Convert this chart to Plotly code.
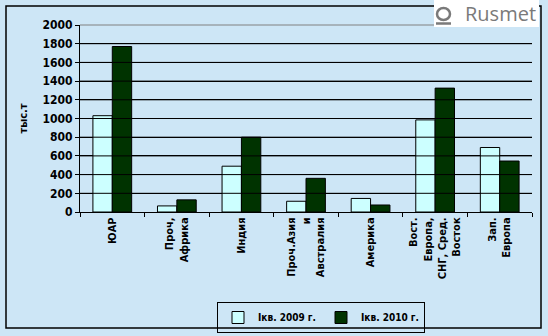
import plotly.graph_objects as go

categories = [
    "ЮАР",
    "Проч,<br>Африка",
    "Индия",
    "Проч.Азия<br>и<br>Австралия",
    "Америка",
    "Вост.<br>Европа,<br>СНГ, Сред.<br>Восток",
    "Зап.<br>Европа",
]
q1_2009 = [1030, 65, 490, 115, 145, 985, 690]
q1_2010 = [1770, 130, 800, 360, 75, 1325, 545]
y_ticks = [0, 200, 400, 600, 800, 1000, 1200, 1400, 1600, 1800, 2000]
y_max = y_ticks[-1]

bg = "#cde6f6"
fam = "DejaVu Sans Condensed, DejaVu Sans, Arial, sans-serif"
bold = dict(family=fam, size=11, color="black", weight="bold")

# plot area in pixels: x 80..532, y 25..212
L, R, T, B = 80, 532, 25, 212
W, H = R - L, B - T


def px(x):
    return (x - L) / W


def py(y):
    return (B - y) / H


fig = go.Figure()
fig.add_trace(go.Bar(
    x=categories, y=q1_2009, name="Iкв. 2009 г.",
    marker=dict(color="#ccffff", line=dict(color="black", width=1)),
))
fig.add_trace(go.Bar(
    x=categories, y=q1_2010, name="Iкв. 2010 г.",
    marker=dict(color="#003300", line=dict(color="black", width=1)),
))

# horizontal grid lines at each y tick (top one lighter)
grid = [
    dict(type="line", xref="paper", yref="paper", x0=0, x1=1, y0=v / y_max, y1=v / y_max,
         line=dict(color="#808080" if v == y_max else "black", width=1), layer="above")
    for v in y_ticks[1:]
]

fig.update_layout(
    template="none",
    width=548, height=336,
    margin=dict(l=L, r=548 - R, t=T, b=336 - B, autoexpand=False),
    paper_bgcolor=bg, plot_bgcolor="rgba(0,0,0,0)",
    barmode="group", bargap=0.4, bargroupgap=0,
    font=bold,
    showlegend=True,
    legend=dict(
        orientation="h", x=px(217), xanchor="left", y=py(302), yanchor="top",
        bordercolor="black", borderwidth=1, bgcolor="rgba(0,0,0,0)",
        font=dict(family=fam, size=10, weight="bold"),
        itemwidth=30, tracegroupgap=0, entrywidth=58, entrywidthmode="pixels",
    ),
    xaxis=dict(
        tickangle=-90, showline=True, linecolor="black", linewidth=1, showgrid=False,
        ticks="outside", tickson="boundaries", ticklen=4, tickcolor="black",
        tickfont=dict(family=fam, size=11, weight="bold"),
    ),
    yaxis=dict(
        range=[0, y_max], tickvals=y_ticks, showgrid=True, gridcolor="black", gridwidth=1,
        showline=True, linecolor="black", linewidth=1,
        ticks="outside", ticklen=4, tickcolor="black",
        tickfont=dict(family=fam, size=12, weight="bold"),
        title=dict(text="тыс.т", font=dict(family=fam, size=11, weight="bold"), standoff=12),
        zeroline=False,
    ),
    shapes=grid + [
        # outer chart frame
        dict(type="rect", xref="paper", yref="paper", x0=px(6), x1=px(541), y0=py(328), y1=py(6),
             line=dict(color="black", width=1.5), fillcolor="rgba(0,0,0,0)", layer="above"),
        # logo plate
        dict(type="rect", xref="paper", yref="paper", x0=px(434), x1=px(539), y0=py(27), y1=py(0),
             line=dict(width=0), fillcolor="white", layer="above"),
        dict(type="circle", xref="paper", yref="paper", x0=px(437), x1=px(450), y0=py(20), y1=py(8),
             line=dict(color="#7a7a7a", width=2.5), fillcolor="white", layer="above"),
        dict(type="line", xref="paper", yref="paper", x0=px(436), x1=px(451), y0=py(23.5), y1=py(23.5),
             line=dict(color="#7a7a7a", width=2.5), layer="above"),
    ],
    annotations=[
        dict(text="Rusmet", xref="paper", yref="paper", x=px(538), y=py(13.5), xanchor="right", yanchor="middle",
             showarrow=False, font=dict(family="Open Sans, sans-serif", size=20, color="#7a7a7a", weight="normal")),
    ],
)

fig.write_html("out.html")
